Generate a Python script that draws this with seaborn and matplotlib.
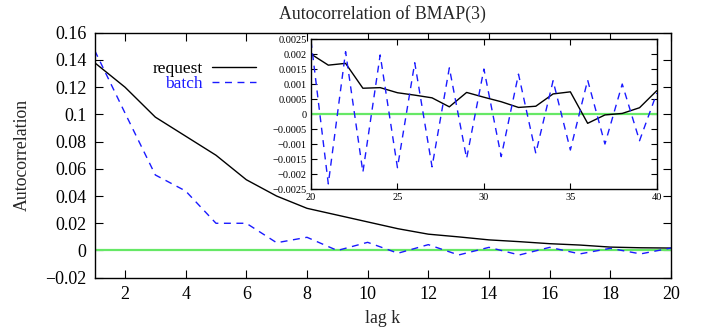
import numpy as np
import pandas as pd
import matplotlib
matplotlib.use("Agg")
import matplotlib.pyplot as plt
import seaborn as sns

# ---- data ----
lags_main = list(range(1, 21))
request_main = [0.138, 0.120, 0.098, 0.084, 0.070, 0.052, 0.040, 0.031, 0.026, 0.021,
                0.016, 0.012, 0.010, 0.0078, 0.0065, 0.0050, 0.0040, 0.0025, 0.0020, 0.0018]
batch_main = [0.147, 0.101, 0.0555, 0.0437, 0.020, 0.020, 0.0057, 0.0097, 0.0, 0.006,
              -0.002, 0.0043, -0.0033, 0.0023, -0.0033, 0.0023, -0.0025, 0.0016, -0.0025, 0.0018]

lags_inset = list(range(20, 41))
request_inset = [0.0020, 0.00163, 0.00169, 0.00086, 0.00088, 0.00071, 0.00063, 0.00054, 0.00024, 0.00072,
                 0.00056, 0.00041, 0.00022, 0.00026, 0.00067, 0.00074, -0.00031, -0.00003, 0.00002, 0.00021,
                 0.00078]
batch_inset = [0.00244, -0.00233, 0.00208, -0.00194, 0.00197, -0.00179, 0.00171, -0.00176, 0.00154, -0.00148,
               0.0015, -0.00142, 0.00133, -0.00131, 0.00111, -0.0012, 0.00113, -0.001, 0.001, -0.00089,
               0.0007]

series_names = ["request", "batch"]
title = "Autocorrelation of BMAP(3)"
xlabel = "lag k"
ylabel = "Autocorrelation"
main_xticks = [2, 4, 6, 8, 10, 12, 14, 16, 18, 20]
main_yticks = [-0.02, 0, 0.02, 0.04, 0.06, 0.08, 0.1, 0.12, 0.14, 0.16]
main_yticklabels = ["\u22120.02", "0", "0.02", "0.04", "0.06", "0.08", "0.1", "0.12", "0.14", "0.16"]
inset_xticks = [20, 25, 30, 35, 40]
inset_yticks = [-0.0025, -0.002, -0.0015, -0.001, -0.0005, 0, 0.0005, 0.001, 0.0015, 0.002, 0.0025]
inset_yticklabels = ["\u22120.0025", "\u22120.002", "\u22120.0015", "\u22120.001", "\u22120.0005", "0",
                     "0.0005", "0.001", "0.0015", "0.002", "0.0025"]

df_main = pd.DataFrame({
    "lag": lags_main * 2,
    "value": request_main + batch_main,
    "series": [series_names[0]] * len(lags_main) + [series_names[1]] * len(lags_main),
})
df_inset = pd.DataFrame({
    "lag": lags_inset * 2,
    "value": request_inset + batch_inset,
    "series": [series_names[0]] * len(lags_inset) + [series_names[1]] * len(lags_inset),
})

sns.set_style("ticks")
plt.rcParams["font.family"] = ["Liberation Serif", "DejaVu Serif"]

palette = {"request": "black", "batch": "#1a1aff"}
dashes = {"request": "", "batch": (5, 4)}
green = "#66e866"

fig = plt.figure(figsize=(7.13, 3.31), dpi=100)
ax = fig.add_axes([0.1328, 0.161, 0.8082, 0.740])

ax.axhline(0, color=green, lw=1.6, zorder=1)
sns.lineplot(data=df_main, x="lag", y="value", hue="series", style="series",
             palette=palette, dashes=dashes, lw=1.0, ax=ax, legend=True, zorder=2)

ax.set_xlim(1, 20)
ax.set_ylim(-0.02, 0.16)
ax.set_xticks(main_xticks)
ax.set_yticks(main_yticks)
ax.set_yticklabels(main_yticklabels)
ax.tick_params(direction="in", length=6, width=0.8, top=True, right=True,
               labelsize=13, colors="black", pad=6)
for sp in ax.spines.values():
    sp.set_visible(True)
    sp.set_linewidth(1.0)
    sp.set_color("black")
ax.set_xlabel(xlabel, fontsize=12.8, labelpad=5)
ax.set_ylabel(ylabel, fontsize=12.8, labelpad=10)
ax.set_title(title, fontsize=12.8, pad=10, x=0.50)

handles, labels = ax.get_legend_handles_labels()
leg = ax.legend(handles, labels, loc="upper left", bbox_to_anchor=(0.079, 0.935),
                frameon=False, markerfirst=False, fontsize=12.5, handlelength=2.5,
                handletextpad=0.55, labelspacing=-0.05, borderpad=0.2)
for t, name in zip(leg.get_texts(), labels):
    t.set_color(palette[name])

# ---- inset ----
axin = fig.add_axes([0.4362, 0.429, 0.4850, 0.453])
axin.set_facecolor("white")
axin.axhline(0, color=green, lw=1.6, zorder=1)
sns.lineplot(data=df_inset, x="lag", y="value", hue="series", style="series",
             palette=palette, dashes=dashes, lw=1.0, ax=axin, legend=False, zorder=2)
axin.set_xlim(20, 40)
axin.set_ylim(-0.0025, 0.0025)
axin.set_xticks(inset_xticks)
axin.set_yticks(inset_yticks)
axin.set_yticklabels(inset_yticklabels)
axin.tick_params(direction="in", length=4, width=0.8, top=True, right=True,
                 labelsize=7.5, colors="black", pad=3)
for sp in axin.spines.values():
    sp.set_visible(True)
    sp.set_linewidth(1.0)
    sp.set_color("black")
axin.set_xlabel("")
axin.set_ylabel("")

fig.savefig("out.png", dpi=100)
